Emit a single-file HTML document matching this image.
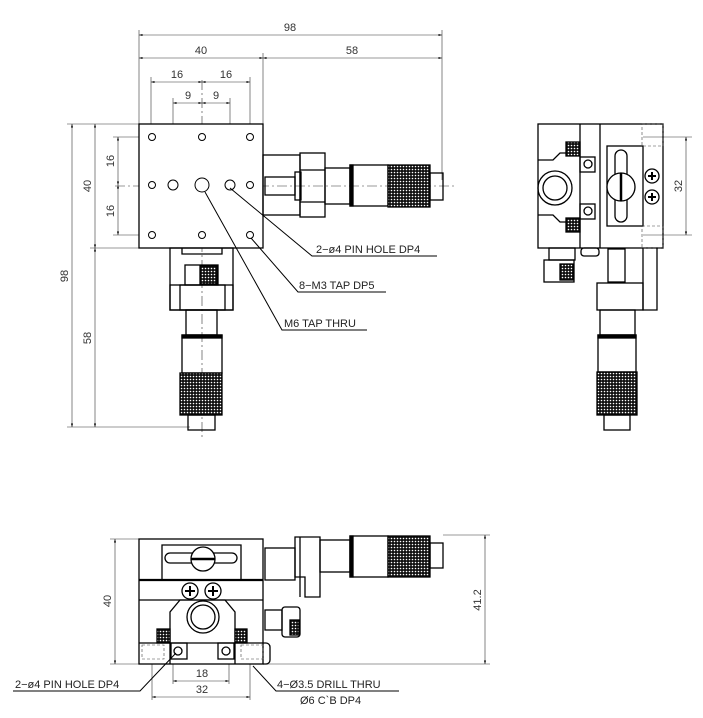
<!DOCTYPE html>
<html><head><style>html,body{margin:0;padding:0;background:#fff}svg{display:block}</style></head><body>
<svg width="703" height="718" viewBox="0 0 703 718" xmlns="http://www.w3.org/2000/svg" font-family="Liberation Sans, sans-serif" font-size="11" fill="none" stroke="#000">
<defs>
<pattern id="kn" width="3" height="3" patternUnits="userSpaceOnUse"><rect width="3" height="3" fill="#111" stroke="none"/><circle cx="1.5" cy="1.5" r="0.8" fill="#fff" stroke="none"/></pattern>
<marker id="ar" viewBox="0 0 10 10" refX="10" refY="5" markerWidth="6" markerHeight="6" orient="auto-start-reverse"><path d="M0,2L10,5L0,8z" fill="#000" stroke="none"/></marker>
</defs>
<!-- ===== TOP VIEW ===== -->
<g stroke-width="0.6" stroke="#333">
<line x1="139" y1="30" x2="139" y2="124"/><line x1="442" y1="30" x2="442" y2="180"/><line x1="263" y1="53" x2="263" y2="124"/>
<line x1="151" y1="77" x2="151" y2="130"/><line x1="250" y1="77" x2="250" y2="130"/>
<line x1="173" y1="98" x2="173" y2="180"/><line x1="230" y1="98" x2="230" y2="180"/>
<line x1="139" y1="35" x2="442" y2="35" marker-start="url(#ar)" marker-end="url(#ar)"/>
<line x1="139" y1="58" x2="263" y2="58" marker-start="url(#ar)" marker-end="url(#ar)"/>
<line x1="263" y1="58" x2="442" y2="58" marker-start="url(#ar)" marker-end="url(#ar)"/>
<line x1="151" y1="82" x2="202" y2="82" marker-start="url(#ar)" marker-end="url(#ar)"/>
<line x1="202" y1="82" x2="250" y2="82" marker-start="url(#ar)" marker-end="url(#ar)"/>
<line x1="173" y1="103" x2="202" y2="103" marker-start="url(#ar)" marker-end="url(#ar)"/>
<line x1="202" y1="103" x2="230" y2="103" marker-start="url(#ar)" marker-end="url(#ar)"/>
<line x1="67" y1="124" x2="139" y2="124"/><line x1="67" y1="427" x2="190" y2="427"/><line x1="90" y1="248" x2="139" y2="248"/>
<line x1="113" y1="137" x2="150" y2="137"/><line x1="113" y1="235" x2="150" y2="235"/>
<line x1="72" y1="124" x2="72" y2="427" marker-start="url(#ar)" marker-end="url(#ar)"/>
<line x1="95" y1="124" x2="95" y2="248" marker-start="url(#ar)" marker-end="url(#ar)"/>
<line x1="95" y1="248" x2="95" y2="427" marker-start="url(#ar)" marker-end="url(#ar)"/>
<line x1="118" y1="137" x2="118" y2="185" marker-start="url(#ar)" marker-end="url(#ar)"/>
<line x1="118" y1="185" x2="118" y2="235" marker-start="url(#ar)" marker-end="url(#ar)"/>
<line x1="115" y1="186" x2="455" y2="186" stroke-dasharray="10,3,2,3"/>
<line x1="202" y1="80" x2="202" y2="440" stroke-dasharray="10,3,2,3"/>
</g>
<g fill="#333" stroke="none" font-size="11">
<text x="290" y="31" text-anchor="middle">98</text>
<text x="201" y="54" text-anchor="middle">40</text>
<text x="352" y="54" text-anchor="middle">58</text>
<text x="177" y="78" text-anchor="middle">16</text>
<text x="226" y="78" text-anchor="middle">16</text>
<text x="188" y="99" text-anchor="middle">9</text>
<text x="216" y="99" text-anchor="middle">9</text>
<text transform="translate(68,276) rotate(-90)" text-anchor="middle">98</text>
<text transform="translate(91,186) rotate(-90)" text-anchor="middle">40</text>
<text transform="translate(91,338) rotate(-90)" text-anchor="middle">58</text>
<text transform="translate(114,161) rotate(-90)" text-anchor="middle">16</text>
<text transform="translate(114,211) rotate(-90)" text-anchor="middle">16</text>
</g>
<g stroke-width="1.3">
<rect x="139" y="124" width="124" height="124" fill="#fff"/>
<g stroke-width="1">
<circle cx="152" cy="137" r="3.5"/><circle cx="202" cy="137" r="3.5"/><circle cx="250" cy="137" r="3.5"/>
<circle cx="152" cy="185" r="3.5"/><circle cx="250" cy="185" r="3.5"/>
<circle cx="152" cy="235" r="3.5"/><circle cx="202" cy="235" r="3.5"/><circle cx="250" cy="235" r="3.5"/>
<circle cx="173" cy="185" r="5"/><circle cx="230" cy="185" r="5"/><circle cx="202" cy="185" r="7"/>
</g>
<!-- right micrometer -->
<rect x="263" y="155" width="37" height="60"/>
<rect x="300" y="153" width="25" height="64"/>
<line x1="300" y1="170" x2="325" y2="170"/><line x1="300" y1="202" x2="325" y2="202"/>
<rect x="265" y="177" width="30" height="18"/>
<rect x="295" y="172" width="6" height="28"/>
<rect x="325" y="168" width="25" height="36"/>
<rect x="350" y="165" width="38" height="41"/>
<rect x="350" y="165" width="3" height="41" fill="#000"/>
<rect x="388" y="165" width="42" height="42" fill="url(#kn)"/>
<rect x="430" y="173" width="13" height="27"/>
<!-- bottom micrometer -->
<rect x="170" y="248" width="63" height="62"/>
<rect x="170" y="285" width="63" height="25"/>
<rect x="180" y="285" width="45" height="25"/>
<path d="M182,248v6h40v-6"/>
<rect x="185" y="265" width="33" height="20"/>
<rect x="200" y="266" width="17" height="18" fill="url(#kn)"/>
<rect x="186" y="310" width="31" height="25"/>
<rect x="182" y="335" width="40" height="38"/>
<rect x="182" y="335" width="40" height="3" fill="#000"/>
<rect x="180" y="373" width="42" height="42" fill="url(#kn)"/>
<rect x="188" y="415" width="27" height="15"/>
</g>
<!-- leaders -->
<g stroke-width="1">
<polyline points="230,188 312,256 437,256"/>
<polyline points="251,238 298,292 386,292"/>
<polyline points="205,192 282,330 367,330"/>
</g>
<g fill="#222" stroke="none" font-size="11">
<text x="316" y="253">2−ø4 PIN HOLE DP4</text>
<text x="299" y="289">8−M3 TAP DP5</text>
<text x="284" y="327">M6 TAP THRU</text>
</g>
<!-- ===== SIDE VIEW ===== -->
<g stroke-width="1.3">
<rect x="538" y="124" width="125" height="124" fill="#fff"/>
<line x1="580" y1="124" x2="580" y2="248"/><line x1="600" y1="124" x2="600" y2="248"/>
<rect x="607" y="146" width="36" height="80"/>
<path d="M538,160h15l7,-7h20 M538,215h15l7,7h20"/>
<rect x="580" y="157" width="15" height="15"/><rect x="580" y="204" width="15" height="15"/>
<circle cx="588" cy="164" r="4"/><circle cx="588" cy="211" r="4"/>
<rect x="566" y="142" width="14" height="14" fill="url(#kn)"/><rect x="566" y="218" width="14" height="14" fill="url(#kn)"/>
<circle cx="555" cy="188" r="17"/><circle cx="555" cy="188" r="12"/>
<rect x="615" y="150" width="12" height="72" rx="6"/>
<circle cx="621" cy="187" r="14" fill="#fff"/><line x1="621" y1="173" x2="621" y2="201" stroke-width="2.5"/>
<circle cx="652" cy="176" r="7"/><circle cx="652" cy="197" r="7"/>
<path d="M648,176h8M652,172v8M648,197h8M652,193v8" stroke-width="2"/>
<rect x="549" y="248" width="26" height="12"/>
<rect x="544" y="260" width="30" height="22"/><rect x="560" y="264" width="13" height="16" fill="url(#kn)"/>
<rect x="581" y="248" width="18" height="8" rx="3"/>
<rect x="608" y="249" width="17" height="33"/>
<path d="M643,248v62h14v-62"/>
<rect x="597" y="283" width="46" height="27"/>
<rect x="600" y="310" width="35" height="25"/>
<rect x="598" y="335" width="38" height="37"/><rect x="598" y="335" width="38" height="3" fill="#000"/>
<rect x="597" y="372" width="40" height="43" fill="url(#kn)"/>
<rect x="604" y="415" width="26" height="15"/>
</g>
<g stroke-width="0.6" stroke="#444" stroke-dasharray="3,2"><rect x="642" y="124" width="21" height="22"/><rect x="642" y="226" width="21" height="22"/></g>
<g stroke-width="0.6" stroke="#333"><line x1="643" y1="137" x2="692" y2="137"/><line x1="643" y1="235" x2="692" y2="235"/>
<line x1="686" y1="137" x2="686" y2="235" marker-start="url(#ar)" marker-end="url(#ar)"/></g>
<text transform="translate(682,186) rotate(-90)" text-anchor="middle" fill="#333" stroke="none">32</text>
<!-- ===== FRONT VIEW ===== -->
<g stroke-width="0.6" stroke="#333">
<line x1="110" y1="539" x2="139" y2="539"/><line x1="110" y1="664" x2="490" y2="664"/><line x1="443" y1="535" x2="490" y2="535"/>
<line x1="115" y1="539" x2="115" y2="664" marker-start="url(#ar)" marker-end="url(#ar)"/>
<line x1="485" y1="535" x2="485" y2="664" marker-start="url(#ar)" marker-end="url(#ar)"/>
<line x1="173" y1="664" x2="173" y2="684"/><line x1="229" y1="664" x2="229" y2="684"/>
<line x1="152" y1="664" x2="152" y2="700"/><line x1="250" y1="664" x2="250" y2="700"/>
<line x1="173" y1="681" x2="229" y2="681" marker-start="url(#ar)" marker-end="url(#ar)"/>
<line x1="152" y1="697" x2="250" y2="697" marker-start="url(#ar)" marker-end="url(#ar)"/>
</g>
<g fill="#333" stroke="none">
<text transform="translate(111,601) rotate(-90)" text-anchor="middle">40</text>
<text transform="translate(481,600) rotate(-90)" text-anchor="middle">41.2</text>
<text x="202" y="677" text-anchor="middle">18</text>
<text x="202" y="693" text-anchor="middle">32</text>
</g>
<g stroke-width="1.3">
<rect x="139" y="539" width="124" height="125" fill="#fff"/>
<line x1="139" y1="580" x2="263" y2="580" stroke-width="2.2"/>
<line x1="139" y1="600" x2="263" y2="600"/>
<path d="M162,580v-35h79v35"/>
<rect x="165" y="553" width="72" height="10" rx="5"/>
<circle cx="203" cy="559" r="12" fill="#fff"/><line x1="191" y1="559" x2="215" y2="559" stroke-width="2.5"/>
<circle cx="190" cy="591" r="8"/><circle cx="213" cy="591" r="8"/>
<path d="M185,591h10M190,586v10M208,591h10M213,586v10" stroke-width="2"/>
<path d="M170,664v-52l10,-12h45l10,12v52"/>
<circle cx="203" cy="617" r="16"/><circle cx="203" cy="617" r="12"/>
<rect x="157" y="629" width="13" height="14" fill="url(#kn)"/><rect x="235" y="629" width="12" height="14" fill="url(#kn)"/>
<line x1="139" y1="643" x2="263" y2="643"/>
<rect x="171" y="643" width="16" height="16"/><circle cx="178" cy="651" r="4"/>
<rect x="218" y="643" width="16" height="16"/><circle cx="226" cy="651" r="4"/>
<path d="M263,643h3a4,4 0 0 1 4,4v13a4,4 0 0 1 -4,4h-3"/>
<rect x="265" y="548" width="30" height="32"/>
<path d="M295,537h25v60h-15v-20h-10z"/><line x1="300" y1="537" x2="300" y2="597"/>
<rect x="320" y="540" width="30" height="32"/>
<rect x="350" y="536" width="38" height="41"/><rect x="350" y="536" width="3" height="41" fill="#000"/>
<rect x="388" y="536" width="42" height="41" fill="url(#kn)"/>
<rect x="430" y="543" width="13" height="25"/>
<rect x="265" y="610" width="17" height="20"/>
<rect x="282" y="607" width="18" height="30" rx="3"/><rect x="290" y="620" width="9" height="15" fill="url(#kn)"/>
</g>
<g stroke-width="0.6" stroke="#444" stroke-dasharray="3,2"><rect x="142" y="645" width="22" height="14"/><rect x="241" y="645" width="22" height="14"/></g>
<g stroke-width="1"><polyline points="13,691 140,691 176,653"/><polyline points="399,691 276,691 253,666"/></g>
<g fill="#222" stroke="none">
<text x="15" y="688">2−ø4 PIN HOLE DP4</text>
<text x="277" y="688">4−Ø3.5 DRILL THRU</text>
<text x="300" y="704">Ø6 C`B DP4</text>
</g>
</svg>
</body></html>
